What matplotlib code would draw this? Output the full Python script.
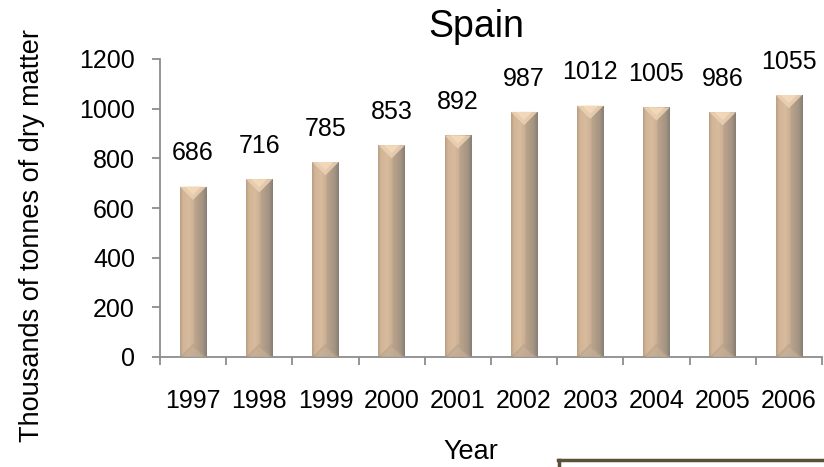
import numpy as np
import matplotlib
matplotlib.use("Agg")
import matplotlib.pyplot as plt
from matplotlib.colors import LinearSegmentedColormap
from matplotlib.patches import Polygon
from matplotlib.lines import Line2D

plt.rcParams['font.family'] = ['Liberation Sans', 'DejaVu Sans']

years = ["1997", "1998", "1999", "2000", "2001", "2002", "2003", "2004", "2005", "2006"]
values = [686, 716, 785, 853, 892, 987, 1012, 1005, 986, 1055]
y_ticks = [0, 200, 400, 600, 800, 1000, 1200]

W, H = 824, 467
FS = 18
fig = plt.figure(figsize=(W / 100, H / 100), dpi=100)
ax = fig.add_axes([160 / W, 1 - 357 / H, 662 / W, 298 / H])

x = np.arange(len(years))
bar_w = 0.40
bars = ax.bar(x, values, width=bar_w, color="none", edgecolor="none", zorder=2)

ax.set_xlim(-0.5, len(years) - 0.5)
ax.set_ylim(0, 1200)

# horizontal shading across each column
shade = LinearSegmentedColormap.from_list("column", [
    (0.00, "#b99e82"), (0.12, "#d3b698"), (0.35, "#d7bb9c"),
    (0.50, "#cdb195"), (0.56, "#bba38b"), (0.85, "#a39483"), (1.00, "#877d74")])
grad = np.linspace(0, 1, 256).reshape(1, -1)

fig.canvas.draw()
px_per_x = ax.transData.transform((1, 0))[0] - ax.transData.transform((0, 0))[0]
px_per_y = ax.transData.transform((0, 1))[1] - ax.transData.transform((0, 0))[1]

for b in bars:
    x0, w, h = b.get_x(), b.get_width(), b.get_height()
    im = ax.imshow(grad, cmap=shade, aspect="auto", extent=(x0, x0 + w, 0, h),
                   zorder=2, interpolation="bilinear")
    im.set_clip_path(b)
    # bevel triangles at the top and bottom of the column
    bev = (w / 2) * px_per_x / px_per_y
    ax.add_patch(Polygon([(x0, h), (x0 + w, h), (x0 + w / 2, h - bev)], closed=True,
                         facecolor="#ecd2b4", edgecolor="none", alpha=0.85, zorder=3))
    ax.add_patch(Polygon([(x0 + w * 0.2, h), (x0 + w * 0.8, h), (x0 + w / 2, h - bev * 0.6)],
                         closed=True, facecolor="#f6dcbc", edgecolor="none", alpha=0.8, zorder=3))
    ax.add_patch(Polygon([(x0, 0), (x0 + w, 0), (x0 + w / 2, bev)], closed=True,
                         facecolor="#b4a08a", edgecolor="none", alpha=0.6, zorder=3))
    ax.add_patch(Polygon([(x0 + w * 0.1, 0), (x0 + w * 0.9, 0), (x0 + w / 2, bev * 0.8)],
                         closed=True, facecolor="#ccb49a", edgecolor="none", alpha=0.5, zorder=3))
    ax.annotate(f"{int(h)}", (x0 + w / 2, h), xytext=(0, 19), textcoords="offset points",
                ha="center", va="baseline", fontsize=FS, color="black", zorder=4)

# axes styling
for s in ["top", "right"]:
    ax.spines[s].set_visible(False)
for s in ["left", "bottom"]:
    ax.spines[s].set_color("#8c8c8c")
    ax.spines[s].set_linewidth(1.3)

ax.set_yticks(y_ticks)
ax.set_yticklabels([str(v) for v in y_ticks], fontsize=FS)
ax.tick_params(axis="y", direction="out", length=6, width=1.3, color="#8c8c8c", pad=12)

ax.set_xticks(x)
ax.set_xticklabels(years, fontsize=FS)
ax.tick_params(axis="x", which="major", length=0, pad=23)
ax.set_xticks(np.arange(len(years) + 1) - 0.5, minor=True)
ax.tick_params(axis="x", which="minor", direction="out", length=6, width=1.3, color="#8c8c8c")

fig.text(476 / W, 1 - 37 / H, "Spain", ha="center", va="baseline", fontsize=27)
fig.text(471 / W, 1 - 459 / H, "Year", ha="center", va="baseline", fontsize=19.5)
fig.text(39 / W, 1 - 236 / H, "Thousands of tonnes of dry matter", rotation=90,
         rotation_mode="anchor", ha="center", va="baseline", fontsize=19.5)

# partial framed box at the lower right
frame_col = "#5c5038"
fig.add_artist(Line2D([558 / W, 1.0], [1 - 460 / H, 1 - 460 / H], color=frame_col,
                      lw=2.5, transform=fig.transFigure))
fig.add_artist(Line2D([559 / W, 559 / W], [1 - 460 / H, 0.0], color=frame_col,
                      lw=2.5, transform=fig.transFigure))

fig.savefig("out.png", dpi=100)
